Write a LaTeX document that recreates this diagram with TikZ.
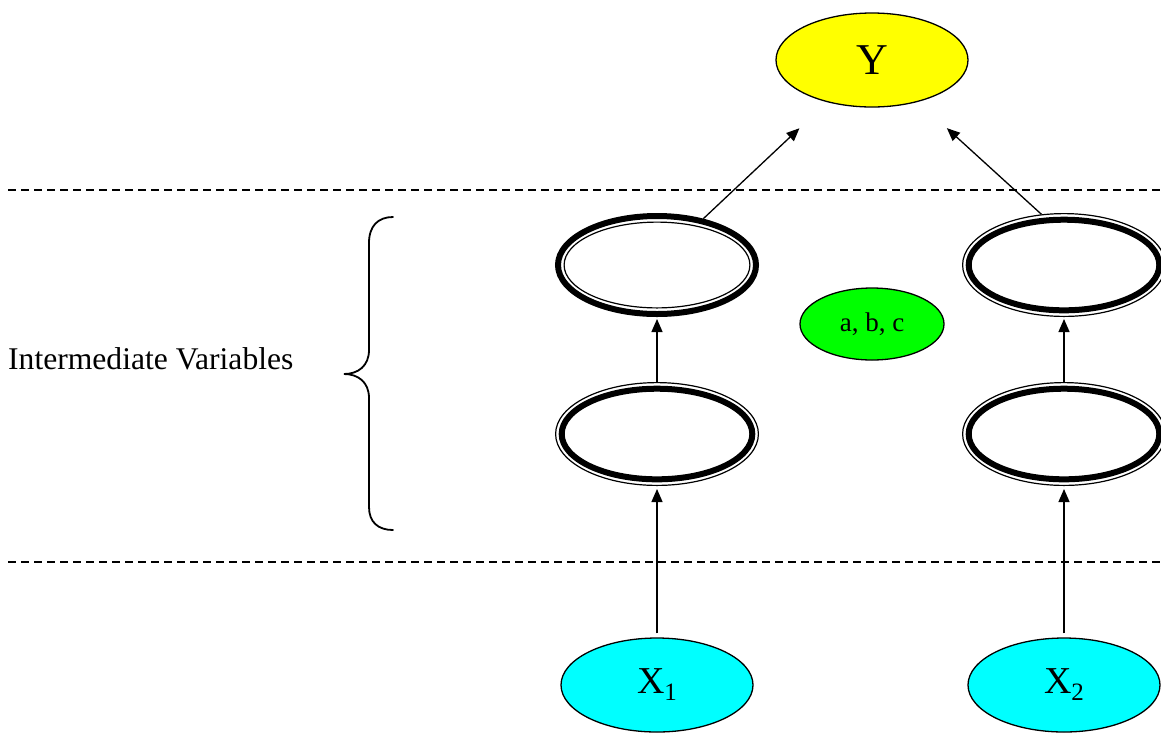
\documentclass[tikz,border=0pt]{standalone}
\usepackage{fontspec}
\setmainfont{Liberation Serif}
\usetikzlibrary{shapes.geometric,arrows.meta}

\definecolor{outyellow}{RGB}{255,255,0}
\definecolor{incyan}{RGB}{0,255,255}
\definecolor{parmgreen}{RGB}{0,255,0}

\tikzset{
  link/.style={line width=1.3pt, -{Triangle[length=13pt,width=11pt]}},
  plain/.style={ellipse, draw, line width=1.3pt, inner sep=0pt},
  slot/.style={ellipse, inner sep=0pt, outer sep=0pt, minimum width=204pt, minimum height=104pt},
  sep/.style={line width=1.3pt, dash pattern=on 8pt off 5pt},
  bracepen/.style={line width=1.8pt, line cap=round},
}

% rings for the intermediate variables
\newcommand\ringthickthin[1]{%
  \draw[line width=6pt] (#1.center) ellipse [x radius=99pt, y radius=49pt];
  \draw[line width=1.2pt] (#1.center) ellipse [x radius=92.9pt, y radius=42.9pt];}
\newcommand\ringthinthick[1]{%
  \draw[line width=1.2pt] (#1.center) ellipse [x radius=101.4pt, y radius=51.4pt];
  \draw[line width=6pt] (#1.center) ellipse [x radius=95.3pt, y radius=45.3pt];}
\newcommand\lowsub[1]{\raisebox{-7pt}{\fontsize{25}{25}\selectfont #1}}

\begin{document}
\begin{tikzpicture}[x=1pt,y=-1pt]
\useasboundingbox (0,0) rectangle (1161,732);

% layer separators
\draw[sep] (8,190) -- (1161,190);
\draw[sep] (8,562) -- (1161,562);

% output
\node[plain, fill=outyellow, minimum width=192pt, minimum height=94pt,
      font=\fontsize{44}{44}\selectfont] (Y) at (872,60) {Y};

% inputs
\node[plain, fill=incyan, minimum width=192pt, minimum height=94pt,
      font=\fontsize{38}{38}\selectfont] (x1) at (657,685) {X\lowsub{1}};
\node[plain, fill=incyan, minimum width=192pt, minimum height=94pt,
      font=\fontsize{38}{38}\selectfont] (x2) at (1064,685) {X\lowsub{2}};

% parameters
\node[plain, fill=parmgreen, minimum width=144pt, minimum height=72pt,
      font=\fontsize{27}{27}\selectfont] (abc) at (872,324) {a, b, c};

% intermediate variables
\node[slot] (m1) at (657,265) {};
\node[slot] (m2) at (657,434) {};
\node[slot] (m3) at (1064,265) {};
\node[slot] (m4) at (1064,434) {};
\ringthickthin{m1}
\ringthinthick{m2}
\ringthinthick{m3}
\ringthinthick{m4}

% label and brace
\node[anchor=base west, inner sep=0pt, font=\fontsize{31.6}{31.6}\selectfont] (iv) at (8,369) {Intermediate Variables};
\draw[bracepen] (393,217) .. controls (378,217) and (369,226) .. (369,243) -- (369,350)
  .. controls (369,366) and (358,374) .. (344,374)
  .. controls (358,374) and (369,382) .. (369,398) -- (369,507)
  .. controls (369,522) and (378,530) .. (393,530);

% connectors
\draw[link, shorten <=4pt, shorten >=3pt] (x1.north) -- (m2.south);
\draw[link, shorten <=4pt, shorten >=3pt] (x2.north) -- (m4.south);
\draw[link, shorten >=2pt] (m2.north) -- (m1.south);
\draw[link, shorten >=2pt] (m4.north) -- (m3.south);
\draw[link, shorten >=38pt] (m1.45) -- (Y);
\draw[link, shorten >=39pt] (m3.114) -- (Y);
\end{tikzpicture}
\end{document}
